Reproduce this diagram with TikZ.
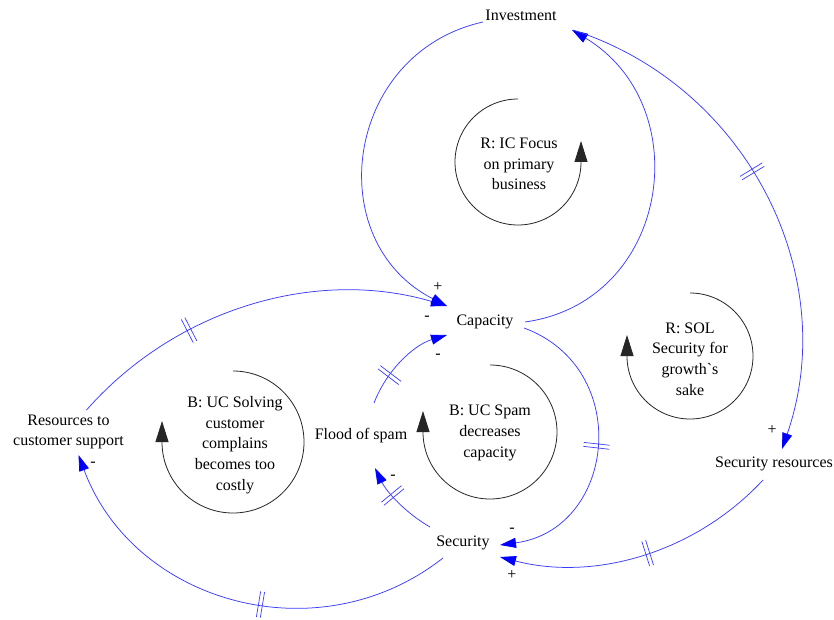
\documentclass[tikz,border=0pt]{standalone}
\usepackage{fontspec}
\setmainfont{Liberation Serif}[Ligatures=TeXOff]
\usetikzlibrary{arrows.meta,decorations.markings}

\definecolor{linkblue}{RGB}{0,0,255}
\definecolor{linkline}{RGB}{60,60,255}

\tikzset{
  x=1pt, y=1pt,
  var/.style={inner sep=0pt, align=center, font=\fontsize{16}{20.7}\selectfont},
  pol/.style={inner sep=0pt, font=\fontsize{16}{20.7}\selectfont},
  link/.style={draw=linkline, line width=0.75pt, -{Triangle[length=16pt,width=10pt,color=linkblue]}},
  loopline/.style={draw=black!85, line width=0.8pt, -{Triangle[length=21pt,width=13pt]}},
  delaymark/.style={postaction={decorate, decoration={markings,
      mark=at position #1 with {
        \draw[-, linkline, line width=0.7pt] (-2pt,-13pt) -- (-2pt,13pt) (2pt,-13pt) -- (2pt,13pt);
      }}}}
}

\begin{document}
\begin{tikzpicture}
\useasboundingbox (0,0) rectangle (834,619);
\fill[white] (0,0) rectangle (834,619);

% variables
\node[var] (inv)    at (521,604)  {Investment};
\node[var] (cap)    at (485,297)  {Capacity};
\node[var] (flood)  at (361,183)  {Flood of spam};
\node[var] (sec)    at (463,76)   {Security};
\node[var] (res)    at (68.5,187) {Resources to\\customer support};
\node[var] (secres) at (774,155)  {Security resources};

% loop identifiers
\node[var] (lic)   at (519,455) {R: IC Focus\\on primary\\business};
\node[var] (lsol)  at (690,260) {R: SOL\\Security for\\growth`s\\sake};
\node[var] (lucs)  at (235,174) {B: UC Solving\\customer\\complains\\becomes too\\costly};
\node[var] (lspam) at (490,186) {B: UC Spam\\decreases\\capacity};

% loop direction circles
\draw[loopline] (518,457) ++(90:63pt) arc[start angle=90, end angle=360, radius=63pt] -- ++(0,21);
\draw[loopline] (690,263) ++(90:63pt) arc[start angle=90, end angle=-180, radius=63pt] -- ++(0,21);
\draw[loopline] (233,177) ++(90:71pt) arc[start angle=90, end angle=-180, radius=71pt] -- ++(0,21);
\draw[loopline] (490,187) ++(90:67pt) arc[start angle=90, end angle=-180, radius=67pt] -- ++(0,21);

% causal links
\draw[link] ([shift={(-38,-7)}]inv.center) to[out=192.6, in=153, looseness=1.27] ([shift={(-38,16)}]cap.center);
\draw[link] ([shift={(40,0)}]cap.center) to[out=8, in=-31, looseness=1.27] ([shift={(51,-15)}]inv.center);
\draw[link, delaymark=0.447] ([shift={(52,-15)}]inv.center) to[out=-17.8, in=70.9, looseness=1.0] ([shift={(8,15)}]secres.center);
\draw[link, delaymark=0.33] ([shift={(18,22)}]res.center) to[out=48.6, in=163.5, looseness=0.925] ([shift={(-38,16)}]cap.center);
\draw[link, delaymark=0.31] ([shift={(13,33)}]flood.center) to[out=68.9, in=196.8, looseness=0.9] ([shift={(-38,-13)}]cap.center);
\draw[link, delaymark=0.5] ([shift={(39,-6)}]cap.center) to[out=-20.2, in=7.7, looseness=1.37] ([shift={(37,-2)}]sec.center);
\draw[link, delaymark=0.48] ([shift={(-11,-16)}]secres.center) to[out=-132.9, in=-14.5, looseness=0.92] ([shift={(37,-14)}]sec.center);
\draw[link, delaymark=0.6] ([shift={(-33,16)}]sec.center) to[out=150, in=296, looseness=0.87] ([shift={(14,-32)}]flood.center);
\draw[link, delaymark=0.44] ([shift={(-20,-15)}]sec.center) to[out=-141.9, in=-69.6, looseness=1.07] ([shift={(10,-23)}]res.center);

% polarities
\node[pol] (p1) at (438,332) {+};
\node[pol] (p2) at (427,301) {-};
\node[pol] (p3) at (438,263) {-};
\node[pol] (p4) at (512,89)  {-};
\node[pol] (p5) at (512,44)  {+};
\node[pol] (p6) at (393,142) {-};
\node[pol] (p7) at (93,155)  {-};
\node[pol] (p8) at (772,189) {+};
\end{tikzpicture}
\end{document}
